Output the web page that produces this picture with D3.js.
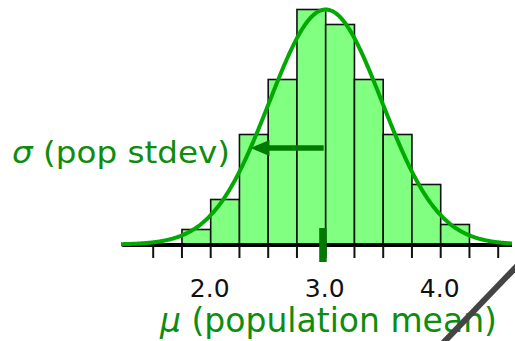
<!DOCTYPE html>
<html>
<head>
<meta charset="utf-8">
<script src="https://d3js.org/d3.v7.min.js"></script>
<style>
body { margin: 0; background: #fff; }
text { font-family: "DejaVu Sans", Verdana, sans-serif; }
</style>
</head>
<body>
<svg id="chart" width="515" height="341"></svg>
<script>
// histogram bins (left edge, right edge) and counts
var binStarts = [1.75, 2.0, 2.25, 2.5, 2.75, 3.0, 3.25, 3.5, 3.75, 4.0];
var binWidth = 0.25;
var counts = [3, 9, 22, 33, 47, 44, 33, 22, 12, 4];
var tickValues = [1.5, 1.75, 2.0, 2.25, 2.5, 2.75, 3.0, 3.25, 3.5, 3.75, 4.0, 4.25, 4.5];
var tickLabels = ["2.0", "3.0", "4.0"];
var mu = 3.0;
var sigma = 0.49;
var curvePeak = 47;     // curve height at mu, in count units
var arrowLevel = 19.3;  // height of the sigma arrow, in count units

var svg = d3.select("#chart");

var x = d3.scaleLinear().domain([1.5, 4.5]).range([153.2, 498.2]);
var y = d3.scaleLinear().domain([0, 47]).range([244.5, 9.5]);

// bars
svg.selectAll("rect.bar")
    .data(counts)
    .enter().append("rect")
    .attr("class", "bar")
    .attr("x", function (d, i) { return x(binStarts[i]); })
    .attr("width", function (d, i) { return x(binStarts[i] + binWidth) - x(binStarts[i]); })
    .attr("y", function (d) { return y(d); })
    .attr("height", function (d) { return y(0) - y(d); })
    .style("fill", "#80ff80")
    .style("stroke", "#111")
    .style("stroke-width", 1.6);

// axis line and ticks
svg.append("line")
    .attr("x1", x(1.23)).attr("x2", x(4.62))
    .attr("y1", 245).attr("y2", 245)
    .style("stroke", "#000").style("stroke-width", 4);

svg.selectAll("line.tick")
    .data(tickValues)
    .enter().append("line")
    .attr("class", "tick")
    .attr("x1", function (d) { return x(d); })
    .attr("x2", function (d) { return x(d); })
    .attr("y1", 245).attr("y2", 258)
    .style("stroke", "#111").style("stroke-width", 2);

svg.selectAll("text.ticklabel")
    .data(tickLabels)
    .enter().append("text")
    .attr("class", "ticklabel")
    .attr("x", function (d) { return x(+d) - 1; })
    .attr("y", 296.5)
    .attr("text-anchor", "middle")
    .style("font-size", "25px")
    .style("fill", "#111")
    .text(function (d) { return d; });

// normal curve
function density(v) {
    var z = (v - mu) / sigma;
    return curvePeak * Math.exp(-0.5 * z * z);
}
var curveX = d3.range(1.22, 4.62, 0.01);
var line = d3.line()
    .x(function (d) { return x(d); })
    .y(function (d) { return y(density(d)); })
    .curve(d3.curveBasis);
svg.append("path")
    .datum(curveX)
    .attr("d", line)
    .style("fill", "none")
    .style("stroke", "#00aa00")
    .style("stroke-width", 4);

// mean marker
svg.append("rect")
    .attr("x", x(mu) - 6.5)
    .attr("width", 7.5)
    .attr("y", 228)
    .attr("height", 34)
    .style("fill", "#007a00");

// sigma arrow, from the mean to the curve
var zArrow = Math.sqrt(-2 * Math.log(arrowLevel / curvePeak));
var tipX = x(mu - zArrow * sigma);
var ay = y(arrowLevel);
svg.append("line")
    .attr("x1", x(mu) - 2).attr("x2", tipX + 14)
    .attr("y1", ay).attr("y2", ay)
    .style("stroke", "#007a00").style("stroke-width", 5.5);
svg.append("path")
    .attr("d", "M" + tipX + "," + ay + "L" + (tipX + 19) + "," + (ay - 8) + "L" + (tipX + 19) + "," + (ay + 8) + "Z")
    .style("fill", "#007a00");

// labels
var sig = svg.append("text")
    .attr("x", 12).attr("y", 163)
    .attr("textLength", 218)
    .attr("lengthAdjust", "spacingAndGlyphs")
    .style("font-size", "30px")
    .style("fill", "#0e8c0e");
sig.append("tspan").style("font-style", "italic").text("σ");
sig.append("tspan").text(" (pop stdev)");

var mul = svg.append("text")
    .attr("x", 160).attr("y", 332)
    .style("font-size", "33px")
    .style("fill", "#0e8c0e");
mul.append("tspan").style("font-style", "italic").text("μ");
mul.append("tspan").text(" (population mean)");

// diagonal grey stroke in the corner
svg.append("line")
    .attr("x1", 443).attr("y1", 343)
    .attr("x2", 517).attr("y2", 266)
    .style("stroke", "#444").style("stroke-width", 6);
</script>
</body>
</html>
